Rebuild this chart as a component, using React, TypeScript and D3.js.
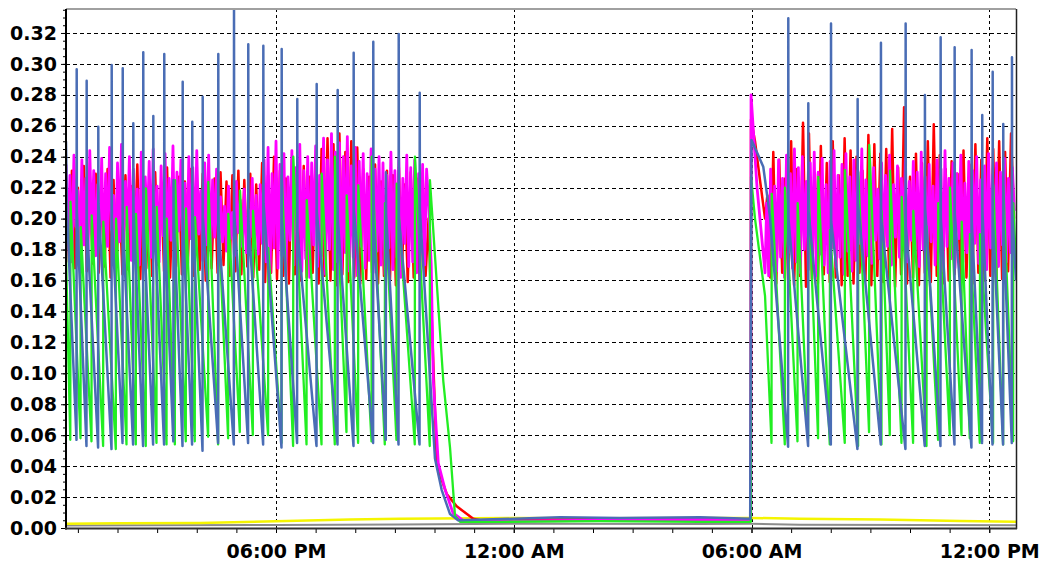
import React, { useRef, useEffect } from 'react';
import * as d3 from 'd3';

// window starts 12:42 PM, all times below are minutes after that
const T0 = new Date(2024, 0, 1, 12, 42);
const END_MIN = 1438.5;
const at = (m: number) => new Date(T0.getTime() + m * 60000);

// blue: spike cycles (rise time, spike top, trough before rise, level right after spike)
const blueRise = [16.2, 31.3, 48.9, 69.2, 85.9, 101.9, 117.0, 132.2, 148.8, 162.8, 176.7, 191.2, 207.0, 230.6, 254.4, 276.0, 298.8, 326.6, 350.2, 379.6, 411.4, 435.6, 465.3, 484.5, 503.8, 535.6,
  1093.7, 1124.0, 1158.4, 1198.7, 1234.0, 1271.4, 1300.6, 1324.4, 1345.6, 1371.3, 1387.4, 1403.2, 1419.2, 1432.4];
const bluePeak = [0.2965, 0.2891, 0.2594, 0.2993, 0.2972, 0.2616, 0.3075, 0.2663, 0.3064, 0.225, 0.2885, 0.2626, 0.2788, 0.3064, 0.34, 0.3127, 0.3118, 0.3096, 0.2773, 0.287, 0.2831, 0.3072, 0.3144, 0.23, 0.3193, 0.2814,
  0.3295, 0.2745, 0.3262, 0.2773, 0.3137, 0.3262, 0.2799, 0.3172, 0.3107, 0.309, 0.267, 0.295, 0.2612, 0.3043];
const blueLow = [0.057, 0.053, 0.052, 0.051, 0.055, 0.054, 0.053, 0.054, 0.054, 0.056, 0.053, 0.054, 0.05, 0.055, 0.054, 0.055, 0.054, 0.052, 0.055, 0.053, 0.054, 0.053, 0.055, 0.057, 0.054, 0.054,
  0.0526, 0.053, 0.054, 0.051, 0.054, 0.051, 0.053, 0.053, 0.054, 0.052, 0.055, 0.054, 0.054, 0.055];
const blueAfter = [0.205, 0.198, 0.21, 0.2, 0.195, 0.207, 0.2, 0.212, 0.196, 0.203, 0.199, 0.208, 0.201, 0.194, 0.205, 0.198, 0.21, 0.2, 0.192, 0.204, 0.199, 0.206, 0.197, 0.203, 0.2, 0.205,
  0.2, 0.205, 0.198, 0.21, 0.2, 0.195, 0.207, 0.2, 0.203, 0.198, 0.205, 0.2, 0.196, 0.204];
const blueOther: [number, number][] = [[0, 0.25], [1.5, 0.205], [558.7, 0.045], [568.9, 0.0245], [581.5, 0.009], [593.6, 0.005],
  [678.4, 0.006], [748, 0.007], [838.9, 0.0065], [960, 0.007], [1036, 0.006], [1038, 0.2508], [1055.8, 0.2336], [1066, 0.2012], [END_MIN, 0.16]];

// green: sawtooth cycles (rise time, top, trough before rise)
const greenRise = [6.8, 22.3, 38.9, 56.5, 75.7, 91.9, 106.0, 121.1, 137.3, 152.5, 165.1, 181.7, 195.3, 215.5, 230.6, 245.8, 263.5, 283.2, 306.3, 326.6, 344.2, 364.5, 387.2, 407.3, 425.0, 442.6, 462.9, 483.0, 500.7, 528.4, 551.1,
  1037.3, 1068.6, 1088.7, 1107.9, 1124.0, 1139.1, 1156.8, 1179.5, 1199.7, 1216.3, 1235.1, 1247.7, 1265.4, 1283.0, 1303.3, 1320.8, 1338.5, 1356.3, 1368.8, 1384.0, 1404.1, 1419.3, 1434.4];
const greenPeak = [0.211, 0.1945, 0.202, 0.198, 0.2, 0.2075, 0.203, 0.2196, 0.2075, 0.2, 0.2248, 0.2066, 0.201, 0.2237, 0.203, 0.203, 0.218, 0.205, 0.181, 0.228, 0.24, 0.212, 0.229, 0.24, 0.215, 0.2215, 0.24, 0.21, 0.2226, 0.24, 0.2248,
  0.227, 0.216, 0.22, 0.21, 0.2225, 0.227, 0.1926, 0.2314, 0.23, 0.2476, 0.205, 0.231, 0.214, 0.205, 0.195, 0.21, 0.22, 0.198, 0.19, 0.19, 0.2217, 0.221, 0.21];
const greenLow = [0.057, 0.058, 0.056, 0.053, 0.051, 0.054, 0.054, 0.053, 0.055, 0.054, 0.054, 0.056, 0.056, 0.059, 0.054, 0.058, 0.062, 0.06, 0.06, 0.055, 0.053, 0.054, 0.054, 0.054, 0.062, 0.055, 0.056, 0.054, 0.057, 0.054, 0.053,
  0.004, 0.055, 0.054, 0.056, 0.058, 0.058, 0.054, 0.055, 0.053, 0.062, 0.054, 0.06, 0.055, 0.055, 0.053, 0.057, 0.06, 0.06, 0.058, 0.055, 0.055, 0.054, 0.056];
const greenOther: [number, number][] = [[0, 0.177], [571.3, 0.095], [581.5, 0.052], [589, 0.008], [596.6, 0.004],
  [657, 0.004], [808.6, 0.0045], [960, 0.004], [1043.3, 0.2], [1058.5, 0.15], [END_MIN, 0.17]];

// magenta: dense readings, every 3 min
const magentaDay = [
  0.235, 0.186, 0.228, 0.172, 0.241, 0.195, 0.218, 0.178, 0.238, 0.183, 0.226, 0.171, 0.244, 0.19, 0.231, 0.176, 0.222, 0.188, 0.239, 0.174,
  0.229, 0.182, 0.246, 0.193, 0.215, 0.169, 0.236, 0.185, 0.248, 0.177, 0.224, 0.191, 0.24, 0.173, 0.232, 0.187, 0.219, 0.17, 0.243, 0.181,
  0.227, 0.194, 0.237, 0.175, 0.245, 0.184, 0.221, 0.172, 0.234, 0.189, 0.242, 0.178, 0.226, 0.186, 0.247, 0.171, 0.23, 0.192, 0.238, 0.18,
  0.223, 0.174, 0.24, 0.187, 0.233, 0.176, 0.244, 0.19, 0.218, 0.173, 0.236, 0.183, 0.241, 0.179, 0.225, 0.188, 0.232, 0.177, 0.214, 0.185,
  0.208, 0.179, 0.221, 0.187, 0.204, 0.176, 0.224, 0.191, 0.212, 0.182, 0.219, 0.178, 0.206, 0.188, 0.226, 0.181, 0.215, 0.177, 0.222, 0.184,
  0.238, 0.172, 0.246, 0.165, 0.229, 0.181, 0.25, 0.168, 0.235, 0.176, 0.242, 0.163, 0.227, 0.186, 0.244, 0.17, 0.233, 0.178, 0.248, 0.166,
  0.231, 0.174, 0.24, 0.162, 0.236, 0.183, 0.247, 0.169, 0.228, 0.176, 0.252, 0.164, 0.238, 0.18, 0.255, 0.167, 0.243, 0.172, 0.249, 0.161,
  0.24, 0.178, 0.253, 0.166, 0.234, 0.175, 0.246, 0.163, 0.237, 0.182, 0.242, 0.168, 0.229, 0.173, 0.245, 0.165, 0.232, 0.179, 0.24, 0.17,
  0.236, 0.164, 0.228, 0.181, 0.243, 0.167, 0.231, 0.175, 0.239, 0.162, 0.226, 0.184, 0.241, 0.169, 0.233, 0.172, 0.238, 0.165, 0.229, 0.178,
  0.235, 0.17, 0.232, 0.21];
const magentaMorning = [
  0.21, 0.163, 0.232, 0.17, 0.221, 0.166, 0.238, 0.175, 0.226, 0.162, 0.241, 0.178, 0.229, 0.168, 0.245, 0.172, 0.233, 0.165, 0.24, 0.18,
  0.224, 0.167, 0.236, 0.174, 0.243, 0.163, 0.23, 0.177, 0.239, 0.17, 0.222, 0.165, 0.237, 0.181, 0.244, 0.169, 0.228, 0.175, 0.235, 0.164,
  0.242, 0.179, 0.227, 0.166, 0.238, 0.173, 0.231, 0.184, 0.245, 0.168, 0.225, 0.176, 0.24, 0.171, 0.233, 0.186, 0.219, 0.174, 0.236, 0.178,
  0.228, 0.182, 0.241, 0.17, 0.222, 0.188, 0.234, 0.175, 0.226, 0.183, 0.239, 0.172, 0.224, 0.186, 0.237, 0.177, 0.23, 0.169, 0.243, 0.18,
  0.227, 0.173, 0.235, 0.185, 0.221, 0.17, 0.238, 0.179, 0.232, 0.166, 0.244, 0.182, 0.226, 0.174, 0.236, 0.168, 0.229, 0.187, 0.241, 0.172,
  0.223, 0.178, 0.237, 0.165, 0.231, 0.184, 0.24, 0.171, 0.225, 0.176, 0.234, 0.167, 0.242, 0.181, 0.228, 0.173, 0.236, 0.169, 0.23, 0.183,
  0.239, 0.172, 0.226, 0.178, 0.233, 0.205];
const magentaOther: [number, number][] = [[553, 0.17], [556.2, 0.095], [563.7, 0.042], [573.9, 0.025], [586, 0.0097], [601.1, 0.005],
  [678.4, 0.0045], [808.6, 0.005], [960, 0.0055], [1036.9, 0.005], [1037.3, 0.28], [1046.4, 0.22], [1058.5, 0.165]];

// red: dense readings, every 4.5 min
const redDay = [
  0.226, 0.172, 0.231, 0.168, 0.22, 0.175, 0.234, 0.166, 0.223, 0.171, 0.229, 0.165, 0.218, 0.169, 0.232, 0.162, 0.225, 0.17, 0.216, 0.164,
  0.228, 0.167, 0.221, 0.173, 0.235, 0.161, 0.224, 0.168, 0.219, 0.163, 0.23, 0.17, 0.222, 0.166, 0.233, 0.162, 0.217, 0.169, 0.227, 0.164,
  0.224, 0.171, 0.232, 0.163, 0.218, 0.167, 0.229, 0.16, 0.221, 0.168, 0.226, 0.165, 0.23, 0.17, 0.224, 0.163, 0.228, 0.166, 0.231, 0.164,
  0.225, 0.169, 0.229, 0.162, 0.222, 0.167, 0.236, 0.159, 0.228, 0.165, 0.24, 0.161, 0.231, 0.163, 0.226, 0.158, 0.238, 0.164, 0.229, 0.16,
  0.234, 0.162, 0.227, 0.165, 0.239, 0.158, 0.245, 0.163, 0.252, 0.16, 0.248, 0.157, 0.255, 0.164, 0.243, 0.159, 0.25, 0.162, 0.246, 0.158,
  0.232, 0.161, 0.227, 0.165, 0.235, 0.158, 0.224, 0.163, 0.231, 0.16, 0.228, 0.157, 0.233, 0.164, 0.222, 0.159, 0.23, 0.162, 0.226, 0.16,
  0.229, 0.163, 0.2];
const redMorning = [
  0.215, 0.162, 0.243, 0.158, 0.238, 0.165, 0.226, 0.16, 0.25, 0.157, 0.232, 0.163, 0.262, 0.156, 0.255, 0.161, 0.229, 0.158, 0.247, 0.164,
  0.236, 0.159, 0.25, 0.162, 0.228, 0.157, 0.252, 0.163, 0.244, 0.158, 0.24, 0.165, 0.231, 0.16, 0.254, 0.157, 0.248, 0.163, 0.242, 0.159,
  0.245, 0.161, 0.258, 0.156, 0.233, 0.164, 0.272, 0.158, 0.227, 0.162, 0.242, 0.157, 0.236, 0.165, 0.25, 0.159, 0.261, 0.163, 0.241, 0.158,
  0.232, 0.16, 0.237, 0.164, 0.229, 0.157, 0.244, 0.162, 0.235, 0.158, 0.248, 0.165, 0.238, 0.16, 0.252, 0.163, 0.245, 0.158, 0.25, 0.161,
  0.243, 0.166, 0.255, 0.2];
const redOther: [number, number][] = [[551, 0.17], [561.6, 0.04], [576.5, 0.022], [591.6, 0.014], [616.7, 0.006], [626.9, 0.005],
  [748, 0.0055], [884.3, 0.006], [1036.9, 0.0055], [1037.3, 0.264], [1043.3, 0.25], [1050.8, 0.225], [1058.5, 0.2]];

const yellowPts: [number, number][] = [[0, 0.0028], [81.8, 0.003], [202.9, 0.0033], [318, 0.0043], [430, 0.0055], [505.7, 0.006], [678.4, 0.0065],
  [808.6, 0.0063], [960, 0.0065], [1037.3, 0.0065], [1111.4, 0.006], [1232.6, 0.0055], [1353.7, 0.0045], [END_MIN, 0.004]];
const grayPts: [number, number][] = [[0, 0.0016], [318, 0.0019], [505, 0.0022], [678, 0.0027], [960, 0.0026], [1037, 0.0027],
  [1111, 0.0021], [1300, 0.0019], [END_MIN, 0.0017]];

const FONT = "'DejaVu Sans', Verdana, sans-serif";

const byTime = (pts: [number, number][]) => pts.slice().sort((a, b) => a[0] - b[0]);

const App = () => {
  const svgRef = useRef<SVGSVGElement>(null);

  useEffect(() => {
    const svg = d3.select(svgRef.current);
    svg.selectAll('*').remove();

    const x = d3.scaleTime().domain([T0, at(END_MIN)]).range([66, 1016]);
    const y = d3.scaleLinear().domain([0, 0.3355]).range([528, 9]);

    svg.append('rect').attr('width', 1047).attr('height', 564).attr('fill', '#fff');
    svg.append('defs').append('clipPath').attr('id', 'plot-clip')
      .append('rect').attr('x', 66).attr('y', 9).attr('width', 950).attr('height', 519);

    const majorY = y.ticks(16);
    const minorY = d3.range(0, 0.3355, 0.005);
    const majorX = x.ticks(d3.timeHour.every(6));
    const minorX = x.ticks(d3.timeHour.every(1));

    // grid
    const grid = svg.append('g').attr('stroke', '#000').attr('stroke-width', 1);
    grid.selectAll('.hg').data(majorY.filter(d => d > 0)).enter().append('line')
      .attr('x1', 66).attr('x2', 1016)
      .attr('y1', d => Math.round(y(d)) + 0.5).attr('y2', d => Math.round(y(d)) + 0.5)
      .attr('stroke-dasharray', '4,3');
    grid.selectAll('.vg').data(majorX).enter().append('line')
      .attr('x1', d => Math.round(x(d)) + 0.5).attr('x2', d => Math.round(x(d)) + 0.5)
      .attr('y1', 9).attr('y2', 528)
      .attr('stroke-dasharray', '3,3');

    // build series
    const cycles = (rise: number[], peak: number[], low: number[], after?: number[]) => {
      const pts: [number, number][] = [];
      rise.forEach((t, i) => {
        pts.push([t - 0.3, low[i]]);
        pts.push([t, peak[i]]);
        if (after) pts.push([t + 0.3, after[i]]);
      });
      return pts;
    };
    const dense = (vals: number[], start: number, step: number) =>
      vals.map((v, i) => [start + i * step, v] as [number, number]);

    const series = [
      { color: '#8c8c8c', width: 2, pts: byTime(grayPts) },
      { color: '#f5f500', width: 2.5, pts: byTime(yellowPts) },
      { color: '#ff0000', width: 2.5, pts: byTime([...dense(redDay, 0, 4.5), ...dense(redMorning, 1062, 4.5), ...redOther]) },
      { color: '#ff00ff', width: 2.8, pts: byTime([...dense(magentaDay, 0, 3), ...dense(magentaMorning, 1061, 3), ...magentaOther]) },
      { color: '#22ee22', width: 2.3, pts: byTime([...cycles(greenRise, greenPeak, greenLow), ...greenOther]) },
      { color: '#4a6db5', width: 2.5, pts: byTime([...cycles(blueRise, bluePeak, blueLow, blueAfter), ...blueOther]) },
    ];

    const line = d3.line<[number, number]>()
      .x(d => x(at(d[0])))
      .y(d => y(d[1]));

    const plot = svg.append('g').attr('clip-path', 'url(#plot-clip)');
    series.forEach(s => {
      plot.append('path')
        .attr('d', line(s.pts))
        .attr('fill', 'none')
        .attr('stroke', s.color)
        .attr('stroke-width', s.width)
        .attr('stroke-linejoin', 'round');
    });

    // frame
    svg.append('line').attr('x1', 66).attr('x2', 1016).attr('y1', 9).attr('y2', 9)
      .attr('stroke', '#a0a0a0').attr('stroke-width', 2);
    svg.append('line').attr('x1', 1016.5).attr('x2', 1016.5).attr('y1', 9).attr('y2', 529)
      .attr('stroke', '#222').attr('stroke-width', 1.5);

    // y axis
    const yMinor = svg.append('g').attr('transform', 'translate(66,0)')
      .call(d3.axisLeft(y).tickValues(minorY).tickSize(3).tickFormat(() => ''));
    yMinor.select('.domain').remove();
    const yAxis = svg.append('g').attr('transform', 'translate(66,0)')
      .call(d3.axisLeft(y).tickValues(majorY).tickSize(5).tickPadding(4).tickFormat(d3.format('.2f')));
    yAxis.select('.domain').remove();
    yAxis.selectAll('text')
      .attr('font-family', FONT).attr('font-size', 19).attr('font-weight', 'bold').attr('fill', '#000');

    // x axis
    const xMinor = svg.append('g').attr('transform', 'translate(0,528)')
      .call(d3.axisBottom(x).tickValues(minorX).tickSize(5).tickFormat(() => ''));
    xMinor.select('.domain').remove();
    const xAxis = svg.append('g').attr('transform', 'translate(0,528)')
      .call(d3.axisBottom(x).tickValues(majorX).tickSize(5).tickPadding(11.5)
        .tickFormat(d => d3.timeFormat('%I:%M %p')(d as Date)));
    xAxis.select('.domain').remove();
    xAxis.selectAll('text')
      .attr('font-family', FONT).attr('font-size', 19).attr('font-weight', 'bold').attr('fill', '#000');

    svg.append('line').attr('x1', 66).attr('x2', 66).attr('y1', 9).attr('y2', 529.5)
      .attr('stroke', '#000').attr('stroke-width', 2);
    svg.append('line').attr('x1', 65).attr('x2', 1017).attr('y1', 528.5).attr('y2', 528.5)
      .attr('stroke', '#333').attr('stroke-width', 2);
  }, []);

  return (
    <svg ref={svgRef} width={1047} height={564}
      style={{ position: 'absolute', left: 0, top: 0, display: 'block' }} />
  );
};

export default App;
